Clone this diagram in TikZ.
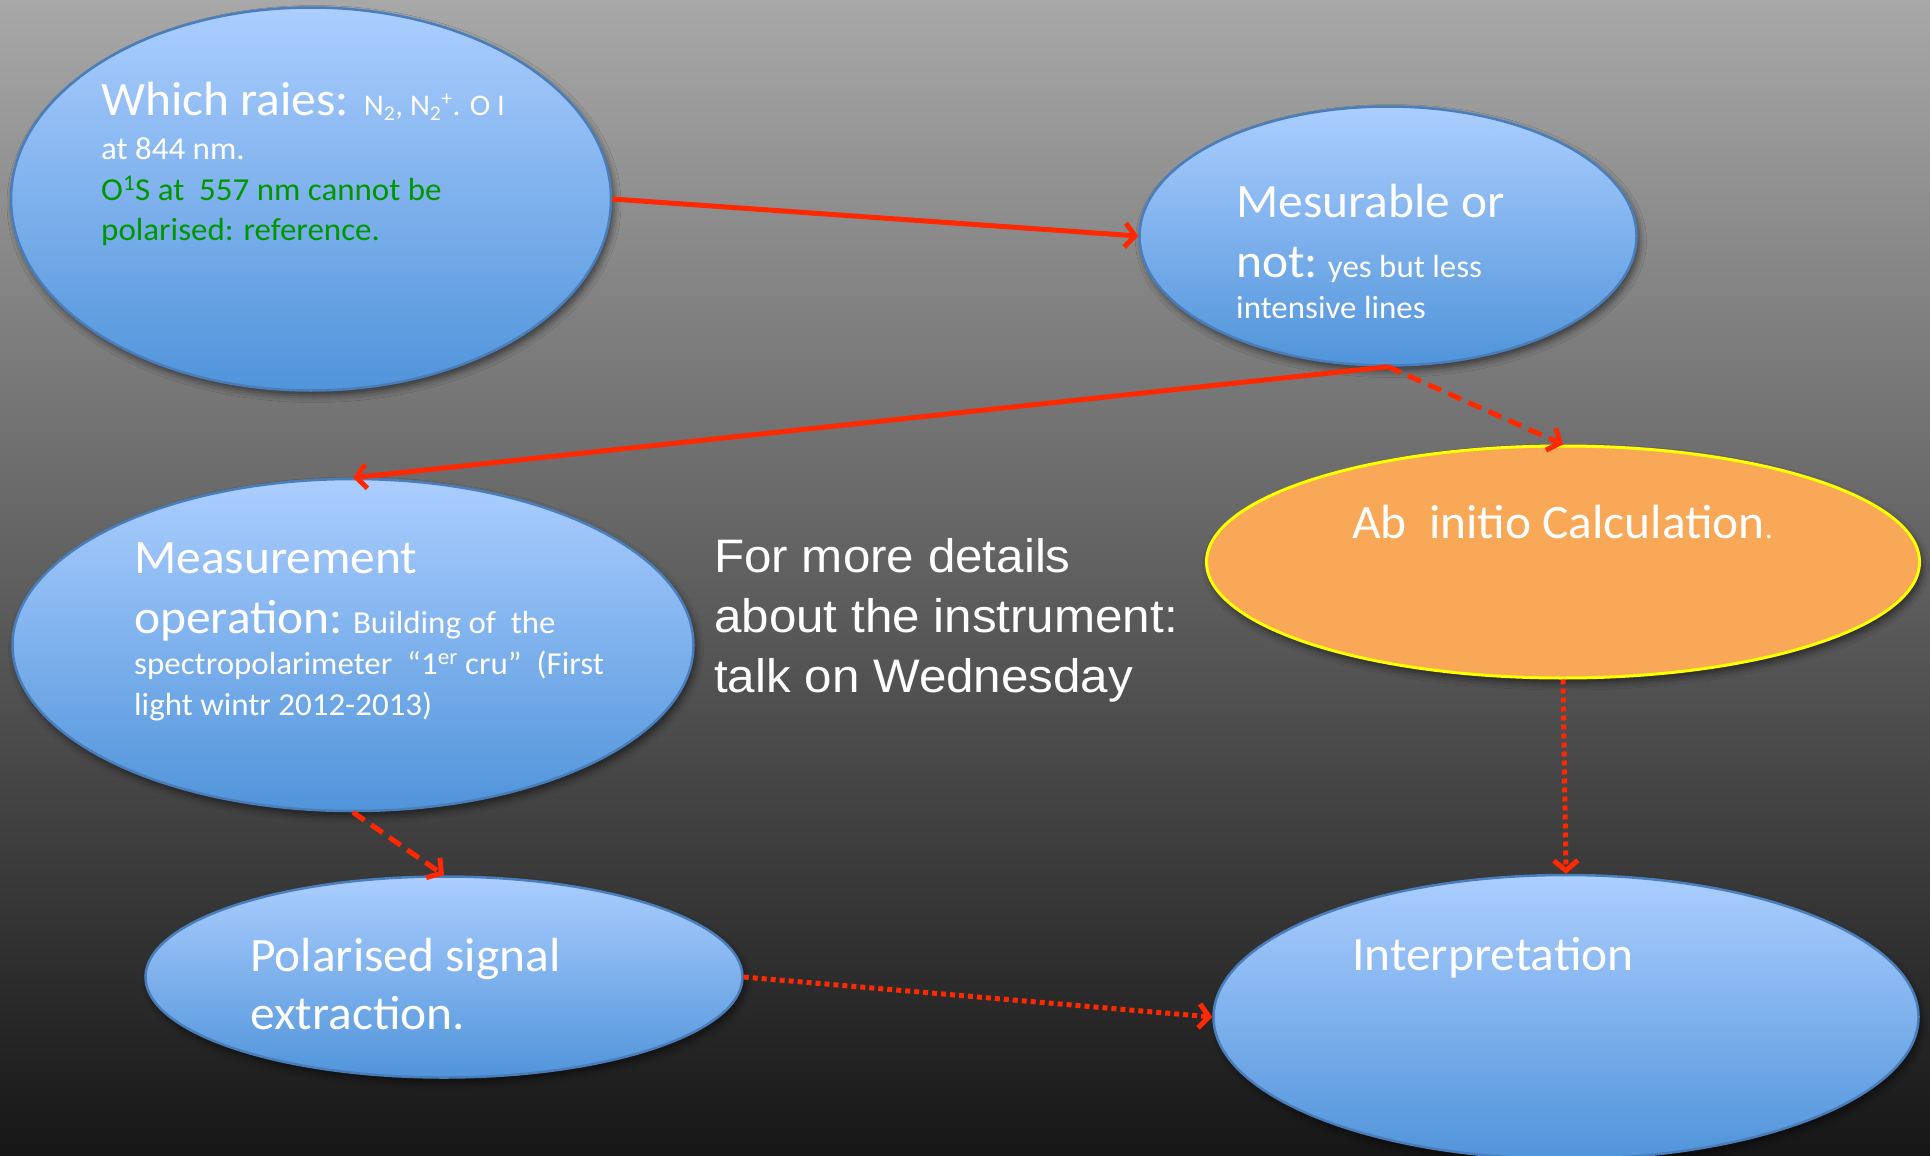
\documentclass[tikz,border=0pt]{standalone}
\usepackage{fontspec}
\usetikzlibrary{arrows.meta,shapes.geometric,shadows.blur}
\newfontfamily\calfont[FakeStretch=1.03]{Carlito}
\newfontfamily\arifont[FakeStretch=1.05]{Liberation Sans}
\definecolor{bubtop}{RGB}{172,206,255}
\definecolor{bubbot}{RGB}{80,148,218}
\definecolor{bubline}{RGB}{74,126,187}
\definecolor{orfill}{RGB}{249,168,87}
\definecolor{orline}{RGB}{255,255,0}
\definecolor{linkred}{RGB}{255,40,0}
\definecolor{notegreen}{RGB}{0,150,0}
\definecolor{bgtop}{RGB}{168,168,168}
\definecolor{bgmid}{RGB}{98,98,98}
\definecolor{bgbot}{RGB}{22,22,22}
% type sizes of the bubble texts
\newcommand\bigsz{\fontsize{48}{58}\selectfont}
\newcommand\smsz{\fontsize{32}{41}\selectfont}
\newcommand\tinysz{\fontsize{30}{41}\selectfont}
% keep the baselines evenly spaced whatever the line contents
\newcommand\fixedlines{\lineskiplimit -1000pt\relax}
\newcommand\notesz{\fontsize{47}{60}\selectfont}
\begin{document}
\begin{tikzpicture}[x=1pt,y=-1pt,
  softshadow/.style={blur shadow={shadow xshift=3pt,shadow yshift=-5pt,
      shadow blur radius=7pt,shadow opacity=55}},
  bubble/.style={ellipse,draw=bubline,line width=2.5pt,
      top color=bubtop,bottom color=bubbot,inner sep=0pt,softshadow},
  orbubble/.style={ellipse,draw=orline,line width=3pt,fill=orfill,
      inner sep=0pt,softshadow},
  % texts are placed by the baseline of their last line
  txt/.style={anchor=base west,inner sep=0pt,align=left,text=white,
      font=\calfont\smsz\fixedlines},
  link/.style={draw=linkred,line width=5pt,
      -{Straight Barb[length=10pt,width=24pt]}},
  dashlink/.style={link,dash pattern=on 14pt off 8pt},
  dotlink/.style={link,dash pattern=on 5pt off 4pt}]

% backdrop
\useasboundingbox (0,0) rectangle (1930,1156);
\fill[top color=bgtop,middle color=bgmid,bottom color=bgbot]
  (0,0) rectangle (1930,1156);

% bubbles
\node[bubble,minimum width=600pt,minimum height=383pt] (e1) at (311,199) {};
\node[bubble,minimum width=497pt,minimum height=259pt] (e2) at (1388,236) {};
\node[bubble,minimum width=681pt,minimum height=332pt] (e3) at (353,645) {};
\node[orbubble,minimum width=713pt,minimum height=232pt] (e4) at (1563,562) {};
\node[bubble,minimum width=597pt,minimum height=201pt] (e5) at (444,977) {};
\node[bubble,minimum width=705pt,minimum height=284pt] (e6) at (1566,1017) {};

% bubble texts
\node[txt] (t1) at (101,240) {{\bigsz Which raies:}\ \ {\tinysz N\textsubscript{2}, N\textsubscript{2}\textsuperscript{+}. O I}\\[3pt]
  at 844 nm.\\
  \color{notegreen}O\textsuperscript{1}S at\ \ 557 nm cannot be\\[-1pt]
  \color{notegreen}polarised: reference.};
\node[txt] (t2) at (1236,318) {{\bigsz Mesurable or}\\[19pt]
  {\bigsz not:} yes but less\\
  intensive lines};
\node[txt] (t3) at (134,715) {{\bigsz Measurement}\\[19pt]
  {\bigsz operation:} Building of\ \ the\\
  spectropolarimeter\ \ “1\textsuperscript{er} cru”\ \ (First\\
  light wintr 2012-2013)};
\node[txt] (t4) at (1352,538) {{\bigsz Ab\ \ initio Calculation}{\tinysz .}};
\node[txt,font=\calfont\bigsz\fixedlines] (t5) at (250,1029) {Polarised signal\\extraction.};
\node[txt,font=\calfont\bigsz] (t6) at (1352,970) {Interpretation};

% free note
\node[txt,font=\arifont\notesz\fixedlines] (note) at (714,692)
  {For more details\\about the instrument:\\talk on Wednesday};

% connectors
\draw[link] (e1.east) -- (e2.west);
\draw[link] (e2.south) -- (e3.north);
\draw[dashlink] (e2.south) -- (e4.north);
\draw[dashlink] (e3.south) -- (e5.north);
\draw[dotlink] (e4.south) -- (e6.north);
\draw[dotlink] (e5.east) -- (e6.west);
\end{tikzpicture}
\end{document}
